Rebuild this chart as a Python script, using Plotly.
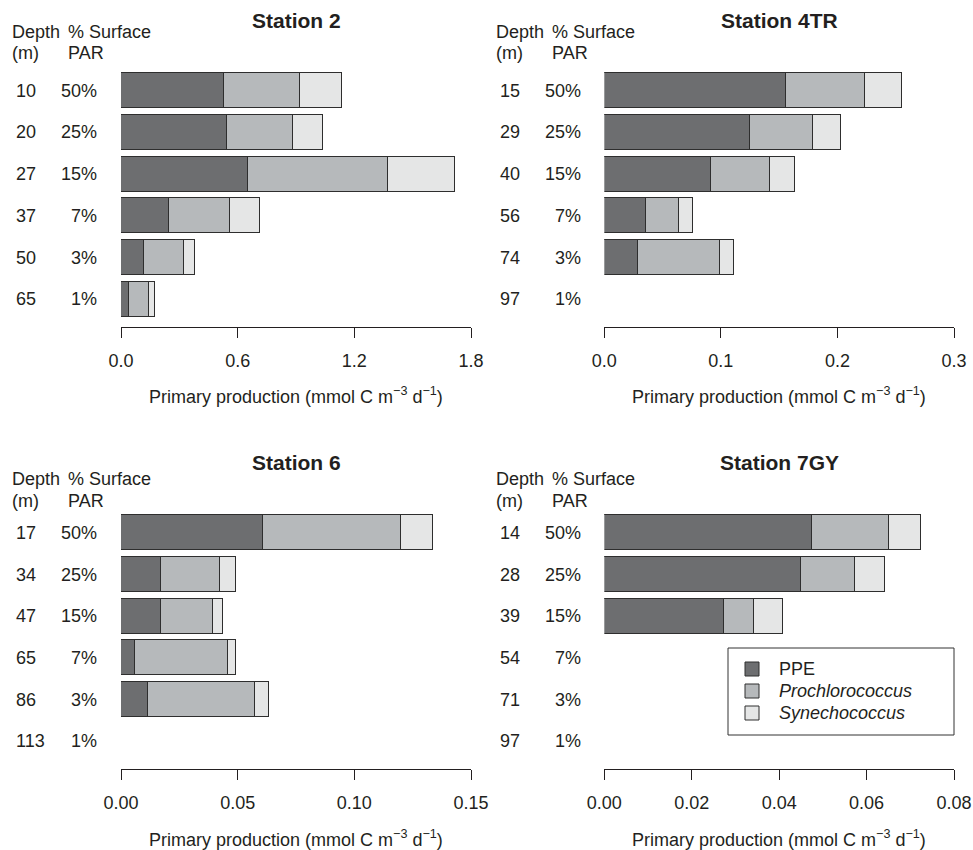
import plotly.graph_objects as go

W, H = 973, 850

# ---- data -------------------------------------------------------------
stations = ["Station 2", "Station 4TR", "Station 6", "Station 7GY"]
par_levels = ["50%", "25%", "15%", "7%", "3%", "1%"]
groups = ["PPE", "Prochlorococcus", "Synechococcus"]

depth_st2 = [10, 20, 27, 37, 50, 65]
depth_st4tr = [15, 29, 40, 56, 74, 97]
depth_st6 = [17, 34, 47, 65, 86, 113]
depth_st7gy = [14, 28, 39, 54, 71, 97]

# primary production, mmol C m-3 d-1
ppe_st2 = [0.531, 0.544, 0.652, 0.247, 0.118, 0.043]
pro_st2 = [0.388, 0.342, 0.721, 0.314, 0.206, 0.101]
syn_st2 = [0.219, 0.151, 0.347, 0.154, 0.058, 0.029]

ppe_st4tr = [0.1565, 0.125, 0.0918, 0.0358, 0.0292, None]
pro_st4tr = [0.0672, 0.0543, 0.051, 0.0286, 0.0707, None]
syn_st4tr = [0.0317, 0.0244, 0.0208, 0.0117, 0.012, None]

ppe_st6 = [0.061, 0.017, 0.017, 0.0059, 0.0117, None]
pro_st6 = [0.0589, 0.0254, 0.0223, 0.040, 0.0459, None]
syn_st6 = [0.0136, 0.007, 0.0043, 0.0034, 0.0058, None]

ppe_st7gy = [0.0475, 0.0451, 0.0275, None, None, None]
pro_st7gy = [0.0176, 0.0124, 0.0067, None, None, None]
syn_st7gy = [0.0075, 0.0068, 0.0068, None, None, None]

x_max = [1.8, 0.3, 0.15, 0.08]
tick_vals = [[0, 0.6, 1.2, 1.8], [0, 0.1, 0.2, 0.3],
             [0, 0.05, 0.10, 0.15], [0, 0.02, 0.04, 0.06, 0.08]]
tick_text = [["0.0", "0.6", "1.2", "1.8"], ["0.0", "0.1", "0.2", "0.3"],
             ["0.00", "0.05", "0.10", "0.15"],
             ["0.00", "0.02", "0.04", "0.06", "0.08"]]

depths = [depth_st2, depth_st4tr, depth_st6, depth_st7gy]
series = [
    [ppe_st2, pro_st2, syn_st2],
    [ppe_st4tr, pro_st4tr, syn_st4tr],
    [ppe_st6, pro_st6, syn_st6],
    [ppe_st7gy, pro_st7gy, syn_st7gy],
]

# ---- styling ------------------------------------------------------------
fills = ["#6d6e70", "#b6b9bb", "#e5e6e6"]
ink = "#231f20"
edge = "#2e2e2e"
FONT = "Liberation Sans, Arial, Helvetica, sans-serif"
FS = 18

col_px = [(121, 471), (604.3, 954)]
row_shift = 442
first_center = 90.8
pitch = 41.7
bar_h = 35 / pitch


def px_x(p):
    return p / W


def px_y(p):
    return 1 - p / H


fig = go.Figure()
annotations = []
shapes = []
layout_axes = {}

for k in range(4):
    col, row = k % 2, k // 2
    x0, x1 = col_px[col]
    off = row * row_shift
    top, bot = 60 + off, 327 + off
    c0 = first_center + off
    sfx = "" if k == 0 else str(k + 1)
    yidx = list(range(len(par_levels)))

    for g, vals in enumerate(series[k]):
        fig.add_trace(go.Bar(
            x=vals, y=yidx, orientation="h", width=bar_h,
            name=groups[g], showlegend=False,
            marker=dict(color=fills[g], line=dict(color=edge, width=1.3)),
            xaxis="x" + sfx, yaxis="y" + sfx,
        ))

    layout_axes["xaxis" + sfx] = dict(
        domain=[px_x(x0), px_x(x1)], anchor="y" + sfx,
        range=[0, x_max[k]], tickvals=tick_vals[k], ticktext=tick_text[k],
        showline=True, linecolor=ink, linewidth=1,
        ticks="outside", ticklen=10, tickwidth=1, tickcolor=ink,
        ticklabelstandoff=7, automargin=False,
        showgrid=False, zeroline=False,
        tickfont=dict(family=FONT, size=FS, color=ink),
    )
    layout_axes["yaxis" + sfx] = dict(
        domain=[px_y(bot), px_y(top)], anchor="x" + sfx,
        range=[(bot - c0) / pitch, (top - c0) / pitch],
        visible=False, showgrid=False, zeroline=False, automargin=False,
    )

    # panel title
    annotations.append(dict(
        text="<b>%s</b>" % stations[k], x=px_x((x0 + x1) / 2),
        y=px_y(21 + off - (1 if row else 0)), xref="paper", yref="paper",
        xanchor="center", yanchor="middle", showarrow=False,
        font=dict(family=FONT, size=21, color=ink)))

    # column headers
    hx = 10 if col == 0 else 494
    hy1 = 32 if row == 0 else 479
    hy2 = 53 if row == 0 else 501
    for txt, xx, yy in [("Depth", hx, hy1), ("(m)", hx, hy2),
                        ("% Surface", hx + 56, hy1), ("PAR", hx + 56, hy2)]:
        annotations.append(dict(
            text=txt, x=px_x(xx), y=px_y(yy), xref="paper", yref="paper",
            xanchor="left", yanchor="middle", showarrow=False,
            font=dict(family=FONT, size=FS, color=ink)))

    # depth and light level per row
    for i in yidx:
        annotations.append(dict(
            text=str(depths[k][i]), x=px_x(hx + 4), y=i,
            xref="paper", yref="y" + sfx, xanchor="left", yanchor="middle",
            showarrow=False, font=dict(family=FONT, size=FS, color=ink)))
        annotations.append(dict(
            text=par_levels[i], x=px_x(hx + 89), y=i,
            xref="paper", yref="y" + sfx, xanchor="right", yanchor="middle",
            showarrow=False, font=dict(family=FONT, size=FS, color=ink)))

    # x-axis title
    annotations.append(dict(
        text="Primary production (mmol C m<sup>\u22123</sup> d<sup>\u22121</sup>)",
        x=px_x((x0 + x1) / 2), y=px_y(396 + off), xref="paper", yref="paper",
        xanchor="center", yanchor="middle", showarrow=False,
        font=dict(family=FONT, size=FS, color=ink)))

# legend box in the Station 7GY panel
shapes.append(dict(type="rect", xref="paper", yref="paper",
                   x0=px_x(728), x1=px_x(954), y0=px_y(735), y1=px_y(648),
                   line=dict(color="#333333", width=1), fillcolor="white"))
legend_rows = [669, 691, 713]
legend_labels = ["PPE", "<i>Prochlorococcus</i>", "<i>Synechococcus</i>"]
for g in range(3):
    yc = legend_rows[g]
    shapes.append(dict(type="rect", xref="paper", yref="paper",
                       x0=px_x(745), x1=px_x(759),
                       y0=px_y(yc + 7), y1=px_y(yc - 7),
                       line=dict(color=edge, width=1), fillcolor=fills[g]))
    annotations.append(dict(
        text=legend_labels[g], x=px_x(777), y=px_y(yc),
        xref="paper", yref="paper", xanchor="left", yanchor="middle",
        showarrow=False, font=dict(family=FONT, size=FS, color=ink)))

fig.update_layout(
    width=W, height=H, margin=dict(l=0, r=0, t=0, b=0, autoexpand=False),
    paper_bgcolor="white", plot_bgcolor="white",
    barmode="stack", bargap=0,
    annotations=annotations, shapes=shapes,
    **layout_axes,
)

fig.write_html("out.html")
